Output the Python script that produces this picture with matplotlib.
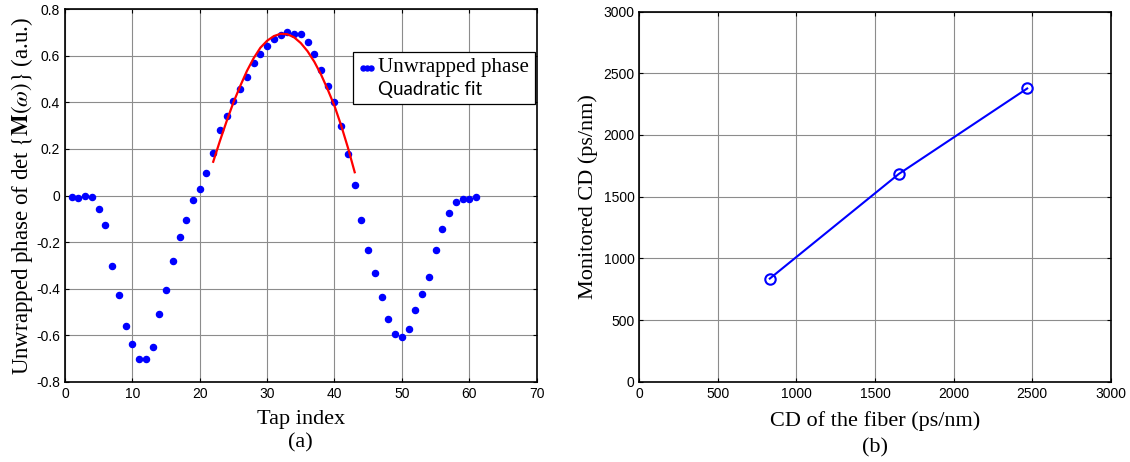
import numpy as np
import matplotlib.pyplot as plt
from matplotlib.lines import Line2D

plt.rcParams['mathtext.fontset'] = 'stix'

# (a) unwrapped phase versus tap index
tap = list(range(1, 62))
phase = [-0.007, -0.011, -0.001, -0.006, -0.059, -0.127, -0.301, -0.427, -0.559, -0.637,
         -0.703, -0.703, -0.651, -0.507, -0.404, -0.281, -0.180, -0.104, -0.020, 0.027,
         0.096, 0.184, 0.283, 0.343, 0.404, 0.456, 0.511, 0.569, 0.610, 0.644,
         0.671, 0.690, 0.701, 0.696, 0.696, 0.659, 0.607, 0.541, 0.471, 0.403,
         0.297, 0.180, 0.046, -0.106, -0.236, -0.334, -0.437, -0.530, -0.597, -0.610,
         -0.573, -0.493, -0.423, -0.349, -0.236, -0.143, -0.073, -0.026, -0.016, -0.016,
         -0.006]

fit_tap = list(range(22, 44))
fit_val = [0.145, 0.235, 0.320, 0.400, 0.470, 0.535, 0.590, 0.635, 0.665, 0.685,
           0.695, 0.693, 0.680, 0.655, 0.620, 0.575, 0.520, 0.455, 0.385, 0.300,
           0.205, 0.100]

# (b) monitored CD versus fiber CD
cd_fiber = [830, 1652, 2468]
cd_monitored = [836, 1685, 2377]

serif = 'Liberation Serif'
sans = 'Liberation Sans'
blue = '#0000ff'
red = '#ff0000'


def style(ax):
    ax.grid(True, color='0.55', lw=0.8, ls='-')
    ax.set_axisbelow(True)
    ax.tick_params(direction='in', length=3, top=True, right=True, labelsize=10)
    for lab in ax.get_xticklabels() + ax.get_yticklabels():
        lab.set_fontfamily(sans)
    for sp in ax.spines.values():
        sp.set_linewidth(1.2)


fig = plt.figure(figsize=(11.3, 4.62), dpi=100)

ax1 = fig.add_axes([0.0575, 0.1738, 0.4174, 0.806])
ax1.plot(tap, phase, ls='none', marker='o', ms=4.4, color=blue, mec=blue)
ax1.plot(fit_tap, fit_val, color=red, lw=1.6)
ax1.set_xlim(0, 70)
ax1.set_ylim(-0.8, 0.8)
ax1.set_xticks(range(0, 71, 10))
ax1.set_yticks(np.arange(-0.8, 0.81, 0.2))
ax1.set_yticklabels(['-0.8', '-0.6', '-0.4', '-0.2', '0', '0.2', '0.4', '0.6', '0.8'])
style(ax1)
ax1.set_ylabel(r'Unwrapped phase of det $\{\mathbf{M}(\omega)\}$ (a.u.)',
               fontfamily=serif, fontsize=16.5, labelpad=1)

handles = [Line2D([], [], ls='none', marker='o', ms=3.6, color=blue),
           Line2D([], [], color='none')]
leg = ax1.legend(handles, ['Unwrapped phase', 'Quadratic fit'],
                 loc='upper right', bbox_to_anchor=(0.996, 0.885),
                 numpoints=3, handlelength=1.2, handletextpad=0.15,
                 fancybox=False, framealpha=1, edgecolor='black',
                 borderpad=0.45, labelspacing=0.25, borderaxespad=0)
leg.get_frame().set_linewidth(0.9)
t0, t1 = leg.get_texts()
t0.set_fontfamily(serif)
t0.set_fontsize(15)
t1.set_fontfamily('Lato')
t1.set_fontsize(13.5)

fig.text(0.2662, 0.093, 'Tap index', ha='center', va='center',
         fontfamily=serif, fontsize=16)
fig.text(0.2662, 0.042, '(a)', ha='center', va='center',
         fontfamily=serif, fontsize=16)

ax2 = fig.add_axes([0.5658, 0.1738, 0.4172, 0.801])
ax2.plot(cd_fiber, cd_monitored, color=blue, lw=1.5, marker='o', ms=7.5,
         mfc='none', mec=blue, mew=1.5)
ax2.set_xlim(0, 3000)
ax2.set_ylim(0, 3000)
ax2.set_xticks(range(0, 3001, 500))
ax2.set_yticks(range(0, 3001, 500))
style(ax2)
ax2.set_ylabel('Monitored CD (ps/nm)', fontfamily=serif, fontsize=16, labelpad=4)

fig.text(0.7744, 0.088, 'CD of the fiber (ps/nm)', ha='center', va='center',
         fontfamily=serif, fontsize=16)
fig.text(0.7744, 0.030, '(b)', ha='center', va='center',
         fontfamily=serif, fontsize=16)

fig.savefig('out.png', dpi=100)
